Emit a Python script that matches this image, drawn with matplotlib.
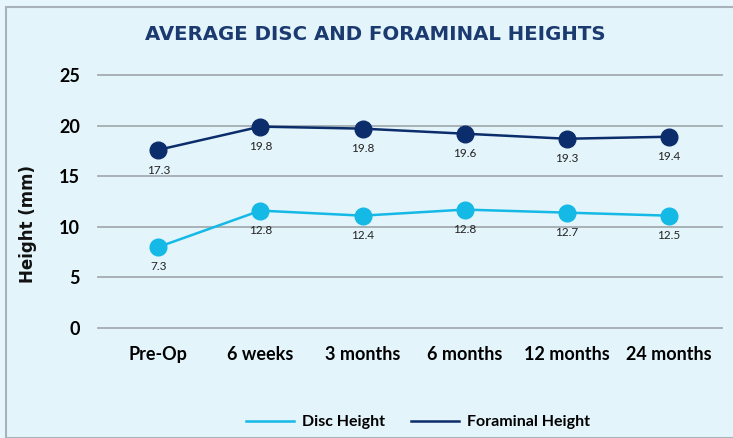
import matplotlib.pyplot as plt
from matplotlib.lines import Line2D
from matplotlib.patches import Rectangle

# data
categories = ['Pre-Op', '6 weeks', '3 months', '6 months', '12 months', '24 months']
disc_height = [8.0, 11.6, 11.1, 11.7, 11.4, 11.1]
foraminal_height = [17.6, 19.9, 19.7, 19.2, 18.7, 18.9]
disc_labels = ['7.3', '12.8', '12.4', '12.8', '12.7', '12.5']
foraminal_labels = ['17.3', '19.8', '19.8', '19.6', '19.3', '19.4']
y_ticks = [0, 5, 10, 15, 20, 25]

disc_color = '#14b9e6'
foram_color = '#0c2d6b'

plt.rcParams['font.family'] = ['Lato', 'DejaVu Sans']

fig = plt.figure(figsize=(7.33, 4.38), dpi=100)
fig.patch.set_facecolor('#e6f6fc')

# panel background
panel = Rectangle((6 / 733, 0), 1, 1 - 7 / 438, transform=fig.transFigure,
                  facecolor='#e3f4fb', edgecolor='#a9b2b8', linewidth=1.5, zorder=-10)
fig.patches.append(panel)

ax = fig.add_axes([98 / 733, 110 / 438, 624 / 733, 253 / 438])
ax.set_facecolor('none')
ax.set_xlim(-0.59, 5.52)
ax.set_ylim(0, 25)
for s in ax.spines.values():
    s.set_visible(False)

for t in y_ticks:
    ax.axhline(t, color='#a3abb0', linewidth=1.3, clip_on=False, zorder=1)

x = range(len(categories))
ax.plot(x, disc_height, color=disc_color, linewidth=1.8, marker='o',
        markersize=12, zorder=3, clip_on=False)
ax.plot(x, foraminal_height, color=foram_color, linewidth=1.8, marker='o',
        markersize=12, zorder=3, clip_on=False)

for i, lab in enumerate(disc_labels):
    ax.annotate(lab, (i, disc_height[i]), xytext=(0, -14), textcoords='offset points',
                ha='center', va='center', fontsize=8.5, color='#222222')
for i, lab in enumerate(foraminal_labels):
    ax.annotate(lab, (i, foraminal_height[i]), xytext=(0, -14.5), textcoords='offset points',
                ha='center', va='center', fontsize=8.5, color='#222222')

ax.set_yticks(y_ticks)
ax.set_yticklabels([str(t) for t in y_ticks], fontsize=13, fontweight='bold')
ax.set_xticks(list(x))
ax.set_xticklabels(categories, fontsize=13, fontweight='bold')
ax.tick_params(axis='y', length=0, pad=13)
ax.tick_params(axis='x', length=0, pad=13)

fig.text(28 / 733, 1 - 224 / 438, 'Height (mm)', rotation=90, ha='center', va='center',
         fontsize=12, fontweight='bold', color='#111111', family=['DejaVu Sans'])

fig.text(375 / 733, 1 - 34 / 438, 'AVERAGE DISC AND FORAMINAL HEIGHTS', ha='center',
         va='center', fontsize=14.2, fontweight='bold', color='#1b3a70',
         family=['DejaVu Sans'])

handles = [Line2D([], [], color=disc_color, linewidth=1.8),
           Line2D([], [], color=foram_color, linewidth=1.8)]
fig.legend(handles, ['Disc Height', 'Foraminal Height'], loc='center',
           bbox_to_anchor=(418 / 733, 1 - 422 / 438), ncol=2, frameon=False,
           handlelength=3.0, columnspacing=1.6, handletextpad=0.5,
           prop={'weight': 'bold', 'size': 11.5})

fig.savefig('out.png', dpi=100, facecolor=fig.get_facecolor())
